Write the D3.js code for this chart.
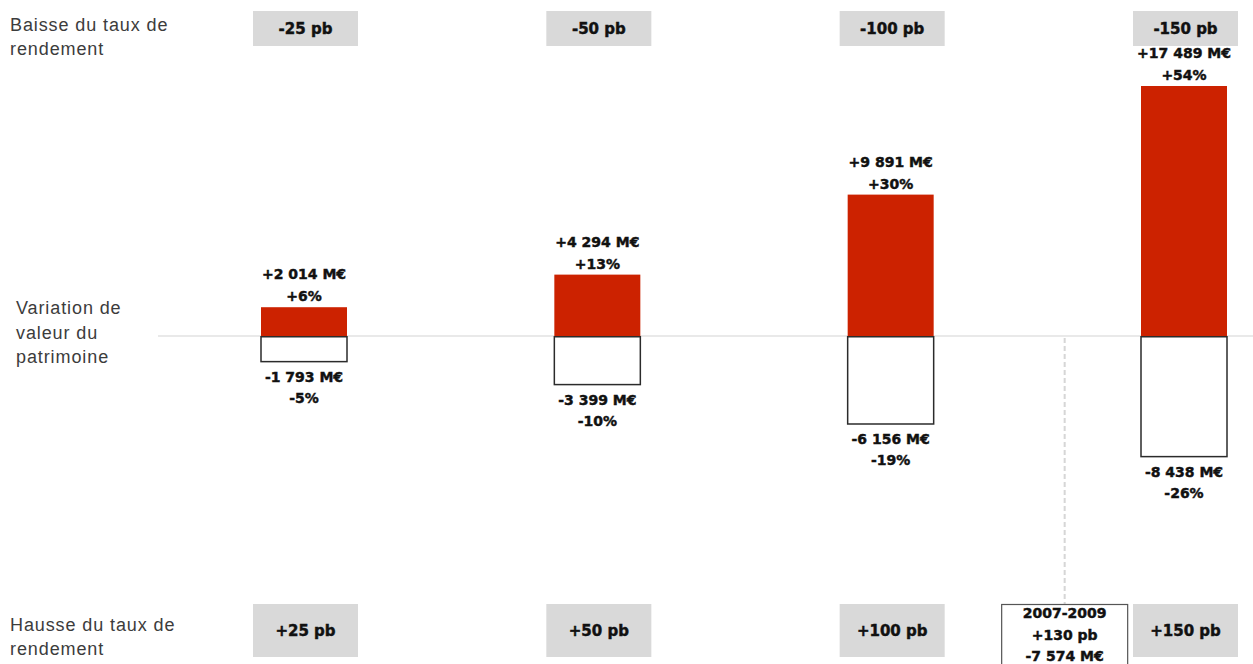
<!DOCTYPE html>
<html lang="fr">
<head>
<meta charset="utf-8">
<script src="https://cdn.jsdelivr.net/npm/d3@7/dist/d3.min.js"></script>
<style>
  html, body { margin: 0; padding: 0; background: #fff; }
  svg { display: block; }
  .side { font-family: "Liberation Sans", Arial, sans-serif; font-size: 18px; fill: #3c3c3c; letter-spacing: 0.9px; }
  .val { font-family: "DejaVu Sans", sans-serif; font-weight: bold; font-size: 14px; fill: #111; stroke: #111; stroke-width: 0.45px; }
  .tag { font-family: "DejaVu Sans", sans-serif; font-weight: bold; font-size: 15px; fill: #111; stroke: #111; stroke-width: 0.45px; }
</style>
</head>
<body>
<svg id="chart" width="1253" height="664"></svg>
<script>
// Scénarios de variation du taux de rendement (points de base)
const shocks = [25, 50, 100, 150];
const downLabels = ["-25 pb", "-50 pb", "-100 pb", "-150 pb"];
const upLabels = ["+25 pb", "+50 pb", "+100 pb", "+150 pb"];

// Variation de valeur du patrimoine (M€) et en %
const gainValues = [2014, 4294, 9891, 17489];
const gainPct = ["+6%", "+13%", "+30%", "+54%"];
const lossValues = [-1793, -3399, -6156, -8438];
const lossPct = ["-5%", "-10%", "-19%", "-26%"];

// Référence historique 2007-2009
const histPeriod = "2007-2009";
const histShock = 130;
const histValue = -7574;

const W = 1253, H = 664;
const svg = d3.select("#chart");

const fmt = v => (v > 0 ? "+" : "-") + d3.format(",")(Math.abs(v)).replace(/,/g, " ") + " M€";

const x = d3.scalePoint().domain(shocks).range([304, 1184]);
// position continue en pb (pour la référence historique)
const xShock = d3.scaleLinear().domain(shocks).range(shocks.map(s => x(s)));
const y = d3.scaleLinear().domain([0, d3.max(gainValues)]).range([336, 86]);

const barW = 86, boxW = 105;

// Libellés de gauche
const sideText = (lines, x0, y0, lh) => {
  const t = svg.append("text").attr("class", "side");
  lines.forEach((l, i) => t.append("tspan").attr("x", x0).attr("y", y0 + i * lh).text(l));
};
sideText(["Baisse du taux de", "rendement"], 10, 31, 24);
sideText(["Variation de", "valeur du", "patrimoine"], 16, 314, 24.5);
sideText(["Hausse du taux de", "rendement"], 10, 631, 24);

// Ligne zéro
svg.append("line")
  .attr("x1", 158).attr("x2", W)
  .attr("y1", y(0)).attr("y2", y(0))
  .attr("stroke", "#e2e2e2").attr("stroke-width", 1.5);

// Ligne pointillée vers la référence historique
const hx = xShock(histShock) - 2;
svg.append("line")
  .attr("x1", hx).attr("x2", hx)
  .attr("y1", y(0) + 2).attr("y2", 604)
  .attr("stroke", "#d6d6d6").attr("stroke-width", 2)
  .attr("stroke-dasharray", "5,3");

// Étiquettes des scénarios (haut et bas)
const tags = (labels, top, h, baseline) => {
  const g = svg.append("g");
  g.selectAll("rect").data(shocks).join("rect")
    .attr("x", d => x(d) - boxW / 2 + 1.5).attr("y", top)
    .attr("width", boxW).attr("height", h)
    .attr("fill", "#d9d9d9");
  g.selectAll("text").data(shocks).join("text")
    .attr("class", "tag").attr("text-anchor", "middle")
    .attr("x", d => x(d) + 1.5).attr("y", baseline)
    .text((d, i) => labels[i]);
};
tags(downLabels, 11, 35, 34);
tags(upLabels, 604, 53, 636);

// Barres : gains (baisse du taux)
svg.append("g").selectAll("rect").data(gainValues).join("rect")
  .attr("x", (d, i) => x(shocks[i]) - barW / 2)
  .attr("y", d => y(d))
  .attr("width", barW)
  .attr("height", d => y(0) - y(d))
  .attr("fill", "#cc2200");

// Barres : pertes (hausse du taux)
svg.append("g").selectAll("rect").data(lossValues).join("rect")
  .attr("x", (d, i) => x(shocks[i]) - barW / 2)
  .attr("y", y(0) + 0.75)
  .attr("width", barW)
  .attr("height", d => y(d) - y(0) - 0.75)
  .attr("fill", "#fff")
  .attr("stroke", "#2b2b2b").attr("stroke-width", 1.5);

// Valeurs des gains
const gLab = svg.append("g");
gainValues.forEach((v, i) => {
  const t = gLab.append("text").attr("class", "val").attr("text-anchor", "middle");
  t.append("tspan").attr("x", x(shocks[i])).attr("y", y(v) - 28).text(fmt(v));
  t.append("tspan").attr("x", x(shocks[i])).attr("y", y(v) - 6).text(gainPct[i]);
});

// Valeurs des pertes
const lLab = svg.append("g");
lossValues.forEach((v, i) => {
  const t = lLab.append("text").attr("class", "val").attr("text-anchor", "middle");
  t.append("tspan").attr("x", x(shocks[i])).attr("y", y(v) + 20).text(fmt(v));
  t.append("tspan").attr("x", x(shocks[i])).attr("y", y(v) + 41).text(lossPct[i]);
});

// Encadré de la référence historique
svg.append("rect")
  .attr("x", hx - 63).attr("y", 604.5)
  .attr("width", 126).attr("height", 80)
  .attr("fill", "#fff").attr("stroke", "#555").attr("stroke-width", 1.2);
const ht = svg.append("text").attr("class", "val").attr("text-anchor", "middle");
[histPeriod, "+" + histShock + " pb", fmt(histValue)].forEach((l, i) =>
  ht.append("tspan").attr("x", hx).attr("y", 618 + i * 21.5).text(l));
</script>
</body>
</html>
